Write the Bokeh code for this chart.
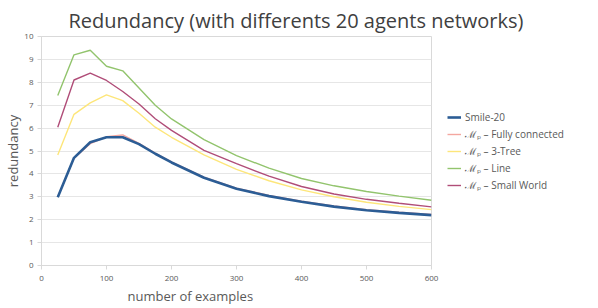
from bokeh.plotting import figure
from bokeh.models import Legend, LegendItem, FixedTicker, Range1d, Title
from bokeh.embed import file_html
from bokeh.resources import INLINE

# ---- data ----
examples = [25, 50, 75, 100, 125, 150, 175, 200, 250, 300, 350, 400, 450, 500, 550, 600]
smile20 = [2.98, 4.7, 5.38, 5.6, 5.6, 5.3, 4.88, 4.5, 3.83, 3.35, 3.03, 2.78, 2.57, 2.41, 2.3, 2.2]
fully_connected = [3.0, 4.68, 5.32, 5.62, 5.7, 5.33, 4.91, 4.53, 3.86, 3.38, 3.06, 2.81, 2.6, 2.44, 2.33, 2.23]
three_tree = [4.83, 6.6, 7.1, 7.45, 7.2, 6.65, 6.04, 5.6, 4.83, 4.2, 3.7, 3.3, 3.0, 2.76, 2.58, 2.44]
line_net = [7.42, 9.2, 9.4, 8.7, 8.5, 7.75, 7.0, 6.4, 5.5, 4.8, 4.25, 3.8, 3.48, 3.23, 3.03, 2.85]
small_world = [6.04, 8.1, 8.4, 8.08, 7.6, 7.05, 6.41, 5.9, 5.03, 4.45, 3.9, 3.45, 3.12, 2.89, 2.72, 2.56]

series_names = ["Smile-20", "\u2133\u209a \u2013 Fully connected", "\u2133\u209a \u2013 3-Tree",
                "\u2133\u209a \u2013 Line", "\u2133\u209a \u2013 Small World"]
series_values = [smile20, fully_connected, three_tree, line_net, small_world]
series_colors = ["#2c5d95", "#f4a7a0", "#fde67a", "#92c46d", "#b04d78"]
x_ticks = [0, 100, 200, 300, 400, 500, 600]
y_ticks = list(range(0, 11))

FONT = "Open Sans"
GRAY = "#595959"

p = figure(frame_width=390, frame_height=229, output_backend="svg", toolbar_location=None,
           x_range=Range1d(0, 600), y_range=Range1d(0, 10),
           min_border_left=41, min_border_right=10, min_border_top=36, min_border_bottom=43)
p.title = None
p.outline_line_color = "#d9d9d9"
p.background_fill_color = "white"
p.border_fill_color = "white"

p.xgrid.visible = False
p.ygrid.grid_line_color = "#e6e6e6"
p.ygrid.grid_line_width = 1

for ax in (p.xaxis, p.yaxis):
    ax.axis_line_color = "#d9d9d9"
    ax.major_tick_line_color = "#d9d9d9"
    ax.major_tick_in = 0
    ax.major_tick_out = 4
    ax.minor_tick_line_color = None
    ax.major_label_text_font = FONT
    ax.major_label_text_font_size = "8px"
    ax.major_label_text_color = GRAY
p.xaxis.ticker = FixedTicker(ticks=x_ticks)
p.yaxis.ticker = FixedTicker(ticks=y_ticks)
p.xaxis.major_label_standoff = 6
p.yaxis.major_label_standoff = 4

draw_order = [1, 2, 3, 4, 0]
renderers = {}
for i in draw_order:
    r = p.line(examples, series_values[i], line_color=series_colors[i],
               line_width=2.6 if i == 0 else 1.4)
    renderers[i] = r

items = [LegendItem(label=series_names[i], renderers=[renderers[i]]) for i in range(5)]
legend = Legend(items=items, location="center_left")
legend.border_line_color = None
legend.background_fill_alpha = 0
legend.label_text_font = FONT
legend.label_text_font_size = "10px"
legend.label_text_color = GRAY
legend.glyph_width = 14
legend.glyph_height = 12
legend.label_height = 12
legend.spacing = 3
legend.label_standoff = 4
legend.padding = 6
legend.margin = 16
p.add_layout(legend, "right")

p.add_layout(Title(text="Redundancy (with differents 20 agents networks)", align="left",
                   offset=27, text_font=FONT, text_font_size="20px",
                   text_font_style="normal", text_color="#404040", standoff=6), "above")
p.add_layout(Title(text="number of examples", align="left", offset=86, text_font=FONT,
                   text_font_size="13px", text_font_style="normal", text_color=GRAY,
                   standoff=2), "below")
p.add_layout(Title(text="redundancy", align="center", text_font=FONT,
                   text_font_size="13px", text_font_style="normal", text_color=GRAY,
                   standoff=0), "left")

open("out.html", "w").write(file_html(p, INLINE))
